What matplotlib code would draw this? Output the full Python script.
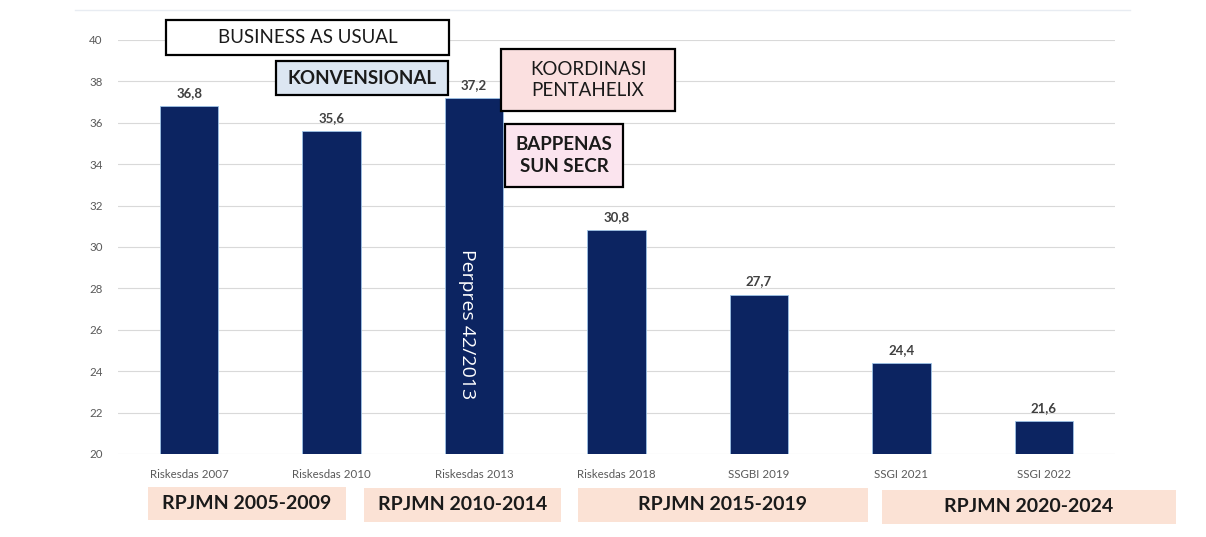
import matplotlib
matplotlib.use("Agg")
import matplotlib.pyplot as plt
from matplotlib.patches import Rectangle

# data
categories = ["Riskesdas 2007", "Riskesdas 2010", "Riskesdas 2013", "Riskesdas 2018",
              "SSGBI 2019", "SSGI 2021", "SSGI 2022"]
stunting = [36.8, 35.6, 37.2, 30.8, 27.7, 24.4, 21.6]
value_labels = ["36,8", "35,6", "37,2", "30,8", "27,7", "24,4", "21,6"]
y_ticks = [20, 22, 24, 26, 28, 30, 32, 34, 36, 38, 40]
period_labels = ["RPJMN 2005-2009", "RPJMN 2010-2014", "RPJMN 2015-2019", "RPJMN 2020-2024"]

W, H = 1206, 537
plt.rcParams["font.family"] = ["Lato", "DejaVu Sans"]

fig = plt.figure(figsize=(W / 100, H / 100), dpi=100)
ax = fig.add_axes([118 / W, 1 - 454 / H, (1115 - 118) / W, (454 - 40) / H])

bar_color = "#0c2461"
x = range(len(categories))
ax.bar(x, stunting, width=0.41, color=bar_color, edgecolor="#9dc3e6", linewidth=0.6, zorder=3)
ax.set_xlim(-0.5, len(categories) - 0.5)
ax.set_ylim(20, 40)
ax.set_yticks(y_ticks)
ax.set_xticks(list(x))
ax.set_xticklabels(categories, fontsize=8.3, color="#595959")
ax.tick_params(axis="y", labelsize=8.3, labelcolor="#595959", length=0, pad=11)
ax.tick_params(axis="x", length=0, pad=11)
ax.grid(axis="y", color="#d9d9d9", linewidth=0.8, zorder=0)
for s in ax.spines.values():
    s.set_visible(False)

for i, (v, lab) in enumerate(zip(stunting, value_labels)):
    ax.text(i, v + 0.35, lab, ha="center", va="bottom", fontsize=9.5,
            fontweight="bold", color="#404040")

ax.text(2 - 0.05, 26.3, "Perpres 42/2013", rotation=-90, ha="center", va="center",
        color="white", fontsize=14, family=["Open Sans", "DejaVu Sans"])

# faint frame line on top
fig.add_artist(plt.Line2D([75 / W, 1130 / W], [1 - 10 / H, 1 - 10 / H],
                          transform=fig.transFigure, color="#e8ecf2", linewidth=1))


def box(x0, y0, x1, y1, text, face, edge="black", lw=1.6, bold=False, size=13.5):
    fig.add_artist(Rectangle((x0 / W, 1 - y1 / H), (x1 - x0) / W, (y1 - y0) / H,
                             transform=fig.transFigure, facecolor=face,
                             edgecolor=edge, linewidth=lw))
    fig.text((x0 + x1) / 2 / W, 1 - (y0 + y1) / 2 / H, text, ha="center", va="center",
             fontsize=size, fontweight="bold" if bold else "normal", color="#1a1a1a",
             linespacing=1.3)


box(166, 20, 449, 55, "BUSINESS AS USUAL", "white")
box(276, 61, 448, 95, "KONVENSIONAL", "#dce6f2", bold=True)
box(501, 49, 675, 111, "KOORDINASI\nPENTAHELIX", "#fbe0e0")
box(505, 124, 623, 187, "BAPPENAS\nSUN SECR", "#fbe4ee", bold=True)

peach = "#fbe2d5"
period_boxes = [(148, 487, 346, 520), (364, 488, 561, 522), (578, 488, 868, 522), (882, 490, 1176, 524)]
for (x0, y0, x1, y1), lab in zip(period_boxes, period_labels):
    box(x0, y0, x1, y1, lab, peach, edge="none", lw=0, bold=True, size=14)

fig.savefig("out.png", dpi=100)
